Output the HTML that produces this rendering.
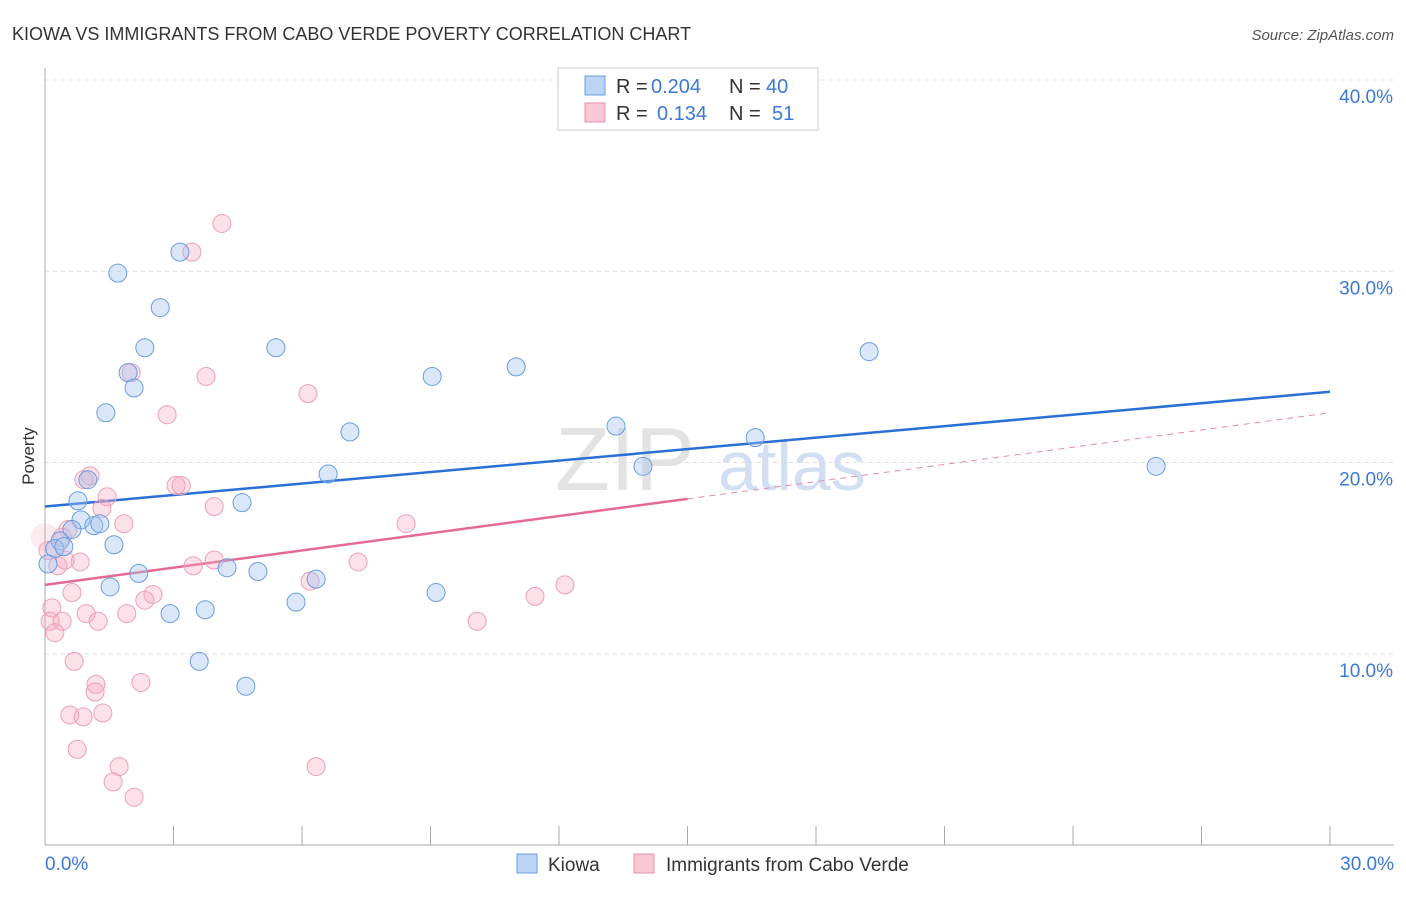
<!DOCTYPE html>
<html><head><meta charset="utf-8"><style>
body{margin:0;background:#fff;font-family:"Liberation Sans",sans-serif}
svg text{font-family:"Liberation Sans",sans-serif}
</style></head><body>
<svg id="c" width="1406" height="892">
<text x="12" y="40" font-size="18" fill="#333">KIOWA VS IMMIGRANTS FROM CABO VERDE POVERTY CORRELATION CHART</text>
<text x="1394" y="40" font-size="15" fill="#555" font-style="italic" text-anchor="end">Source: ZipAtlas.com</text>
<text x="34" y="456" font-size="17" fill="#333" transform="rotate(-90 34 456)" text-anchor="middle">Poverty</text>
<g><text x="555" y="490" font-size="90" fill="#ddd" font-family="Liberation Serif" opacity="0.8">ZIP</text><text x="718" y="490" font-size="70" fill="#c8d8f0" opacity="0.8">atlas</text></g>
<g id="grid"></g><g id="axes"></g><g id="lines"></g><g id="pts"></g>
<g>
<rect x="558" y="68" width="260" height="62" fill="#fff" stroke="#ccc"/>
<rect x="585" y="76" width="20" height="19" fill="#bcd4f6" stroke="#6a9de0"/>
<rect x="585" y="103" width="20" height="19" fill="#f9c6d4" stroke="#e890aa"/>
<text x="616" y="93" font-size="20" fill="#333">R =</text>
<text x="651" y="93" font-size="20" fill="#3b78d8">0.204</text>
<text x="729" y="93" font-size="20" fill="#333">N =</text>
<text x="766" y="93" font-size="20" fill="#3b78d8">40</text>
<text x="616" y="120" font-size="20" fill="#333">R =</text>
<text x="657" y="120" font-size="20" fill="#3b78d8">0.134</text>
<text x="729" y="120" font-size="20" fill="#333">N =</text>
<text x="772" y="120" font-size="20" fill="#3b78d8">51</text>
</g>
<g>
<rect x="517" y="854" width="20" height="19" fill="#bcd4f6" stroke="#6a9de0"/>
<text x="548" y="871" font-size="19" fill="#333">Kiowa</text>
<rect x="634" y="854" width="20" height="19" fill="#f9c6d4" stroke="#e890aa"/>
<text x="666" y="871" font-size="19" fill="#333">Immigrants from Cabo Verde</text>
</g>
</svg>
<script>
const yTicks=[10,20,30,40];
const yTickLabels=["10.0%","20.0%","30.0%","40.0%"];
const xTickLabels=["0.0%","30.0%"];
const kiowaX=[1.70,3.15,2.69,2.33,1.94,2.08,1.42,0.77,1.00,0.84,1.14,1.28,0.63,0.35,0.23,0.44,0.07,1.61,1.52,2.19,2.92,3.74,3.60,4.69,4.25,4.97,4.60,5.39,5.86,6.33,6.61,7.12,9.04,9.13,11.0,13.33,13.96,16.58,19.24,25.94];
const kiowaY=[29.9,31.0,28.1,26.0,24.7,23.9,22.6,18.0,19.1,17.0,16.7,16.8,16.5,15.9,15.5,15.6,14.7,15.7,13.5,14.2,12.1,12.3,9.6,8.3,14.5,14.3,17.9,26.0,12.7,13.9,19.4,21.6,24.5,13.2,25.0,21.9,19.8,21.3,25.8,19.8];
const caboX=[4.13,3.43,3.76,2.01,2.85,6.14,1.05,0.91,1.45,1.33,3.06,3.18,3.95,1.84,0.54,8.43,0.40,0.0,0.82,0.30,3.95,3.46,7.31,6.19,12.14,11.44,2.52,2.33,0.63,0.16,0.96,1.24,1.91,0.12,0.40,0.23,10.09,0.68,1.19,1.17,2.24,0.58,0.89,1.35,0.75,1.73,1.59,2.08,6.33,0.07,0.47];
const caboY=[32.5,31.0,24.5,24.7,22.5,23.6,19.3,19.1,18.2,17.6,18.8,18.8,17.7,16.8,16.5,16.8,16.1,16.1,14.8,14.6,14.9,14.6,14.8,13.8,13.6,13.0,13.1,12.8,13.2,12.4,12.1,11.7,12.1,11.7,11.7,11.1,11.7,9.6,8.4,8.0,8.5,6.8,6.7,6.9,5.0,4.1,3.3,2.5,4.1,15.4,14.9];
const kiowaTrend=[17.7,23.7];
const caboTrend=[13.6,22.6];
const caboSolidEnd=15;
const X=v=>45+v/30*1285, Y=v=>845-v*19.125;
const NS="http://www.w3.org/2000/svg";
function mk(p,t,a){const e=document.createElementNS(NS,t);for(const k in a)e.setAttribute(k,a[k]);document.getElementById(p).appendChild(e);return e;}
yTicks.forEach((t,i)=>{
 const g=mk('grid','line',{x1:45,x2:1394,y1:Y(t),y2:Y(t),stroke:"#ddd","stroke-dasharray":"4,4"});
 
 
 const l=mk('grid','text',{x:1393,y:Y(t)+23,"font-size":19,fill:"#3b78d8","text-anchor":"end"});l.textContent=yTickLabels[i];
 
 
});
const ax=mk('axes','line',{x1:45,x2:45,y1:68,y2:845,stroke:"#aaa"});


const bx=mk('axes','line',{x1:45,x2:1394,y1:845,y2:845,stroke:"#aaa"});


for(let i=0;i<=10;i++){const t=mk('axes','line',{x1:X(i*3),x2:X(i*3),y1:826,y2:845,stroke:"#aaa"});
 
 }
[[0,"start",45],[30,"end",1394]].forEach((d,i)=>{const t=mk('axes','text',{x:d[2],y:870,"font-size":19,fill:"#3b78d8","text-anchor":d[1]});t.textContent=xTickLabels[i];
 
 });
function pts(xs,ys,fill,stroke,name){xs.forEach((x,i)=>{const big=x===0;const c=mk('pts','circle',{cx:X(x),cy:Y(ys[i]),r:(big?14:9),fill:big?"rgba(246,170,192,0.25)":fill,stroke:big?"none":stroke,"stroke-width":1});
 
 });}
pts(caboX,caboY,"rgba(246,170,192,0.35)","#eba0b6","cabo-verde-point");
pts(kiowaX,kiowaY,"rgba(160,194,240,0.4)","#6a9de0","kiowa-point");
const kt=mk('lines','line',{x1:X(0),y1:Y(kiowaTrend[0]),x2:X(30),y2:Y(kiowaTrend[1]),stroke:"#2a6fd6","stroke-width":2.5});


const cy=v=>caboTrend[0]+(caboTrend[1]-caboTrend[0])*v/30;
const ct=mk('lines','line',{x1:X(0),y1:Y(cy(0)),x2:X(caboSolidEnd),y2:Y(cy(caboSolidEnd)),stroke:"#e56a93","stroke-width":2.5});


const cd=mk('lines','line',{x1:X(caboSolidEnd),y1:Y(cy(caboSolidEnd)),x2:X(30),y2:Y(cy(30)),stroke:"#e88aa8","stroke-width":1,"stroke-dasharray":"6,5"});


</script>
</body></html>
